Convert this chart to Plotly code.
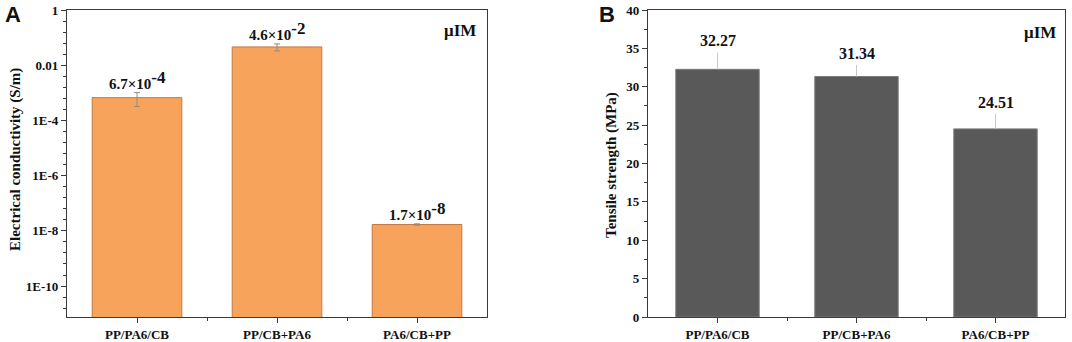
import plotly.graph_objects as go
import numpy as np

categories = ["PP/PA6/CB", "PP/CB+PA6", "PA6/CB+PP"]
conductivity = [6.7e-4, 4.6e-2, 1.7e-8]
conductivity_err = [3.5e-4, 1.3e-2, 0.1e-8]
conductivity_mant = ["6.7", "4.6", "1.7"]
conductivity_exp = ["-4", "-2", "-8"]
strength = [32.27, 31.34, 24.51]
strength_err = [2.2, 1.5, 2.0]
strength_labels = ["32.27", "31.34", "24.51"]
cond_tickvals = [1, 1e-2, 1e-4, 1e-6, 1e-8, 1e-10]
cond_ticktext = ["1", "0.01", "1E-4", "1E-6", "1E-8", "1E-10"]
str_tickvals = [0, 5, 10, 15, 20, 25, 30, 35, 40]

W, H = 1072, 342


def fx(px):
    return px / W


def fy(py):
    return 1 - py / H


SERIF = "Liberation Serif, Times New Roman, serif"
AXC = "#3a3a3a"
xpos = list(range(len(categories)))

fig = go.Figure()
fig.add_trace(go.Bar(
    x=xpos, y=conductivity, width=0.64,
    marker=dict(color="#F7A35C", line=dict(color="#C07A45", width=1)),
    error_y=dict(type="data", array=conductivity_err, color="#9a8a80", thickness=1, width=3),
    xaxis="x", yaxis="y", showlegend=False))
fig.add_trace(go.Bar(
    x=xpos, y=strength, width=0.6,
    marker=dict(color="#595959", line=dict(color="#7a7a7a", width=1)),
    error_y=dict(type="data", symmetric=False, array=strength_err,
                 arrayminus=[0] * len(strength), color="#c8c8c8", thickness=1, width=0),
    xaxis="x2", yaxis="y2", showlegend=False))

tickfont = dict(family=SERIF, size=13, color="#111", weight="bold")
xcommon = dict(
    range=[-0.5, len(categories) - 0.5], tickvals=xpos, ticktext=categories,
    ticks="outside", ticklen=5, tickwidth=1, tickcolor=AXC, automargin=False,
    showline=True, linecolor=AXC, linewidth=1.2, mirror=True,
    showgrid=False, zeroline=False, tickfont=tickfont,
    minor=dict(tickvals=[i + 0.5 for i in xpos[:-1]], ticks="outside", ticklen=3,
               tickcolor=AXC, showgrid=False),
)
minor_log = [10 ** (-k * 0.4) for k in range(1, 28) if (k * 0.4) % 2 > 0.01 and (k * 0.4) % 2 < 1.99]
fig.update_layout(
    width=W, height=H,
    margin=dict(l=0, r=0, t=0, b=0),
    paper_bgcolor="white", plot_bgcolor="white",
    xaxis=dict(domain=[fx(67), fx(487)], anchor="y", **xcommon),
    xaxis2=dict(domain=[fx(648), fx(1065)], anchor="y2", **xcommon),
    yaxis=dict(domain=[fy(317), fy(10)], anchor="x", type="log",
               range=[-11.12, 0], tickvals=cond_tickvals, ticktext=cond_ticktext,
               ticks="outside", ticklen=5, tickcolor=AXC, automargin=False,
               showline=True, linecolor=AXC, linewidth=1.2, mirror=True,
               showgrid=False, zeroline=False, tickfont=tickfont,
               minor=dict(tickvals=minor_log, ticks="outside", ticklen=3,
                          tickcolor=AXC, showgrid=False)),
    yaxis2=dict(domain=[fy(317), fy(10)], anchor="x2",
                range=[0, 40], tickvals=str_tickvals, automargin=False,
                ticks="outside", ticklen=5, tickcolor=AXC,
                showline=True, linecolor=AXC, linewidth=1.2, mirror=True,
                showgrid=False, zeroline=False, tickfont=tickfont,
                minor=dict(dtick=2.5, ticks="outside", ticklen=3,
                           tickcolor=AXC, showgrid=False)),
    bargap=0.3,
)

annots = []
for i, (v, e, m, x) in enumerate(zip(conductivity, conductivity_err, conductivity_mant, conductivity_exp)):
    t = f"{m}×10<sup><span style='font-size:17px'>{x}</span></sup>"
    annots.append(dict(x=i, y=np.log10(v + e), xref="x", yref="y", text=t,
                       showarrow=False, yanchor="bottom", yshift=-1,
                       font=dict(family=SERIF, size=15, color="#111", weight="bold")))
for i, (v, e, t) in enumerate(zip(strength, strength_err, strength_labels)):
    annots.append(dict(x=i, y=v + e, xref="x2", yref="y2", text=t,
                       showarrow=False, yanchor="bottom", yshift=1,
                       font=dict(family=SERIF, size=16, color="#111", weight="bold")))
# μIM labels
annots.append(dict(x=fx(478), y=fy(30), xref="paper", yref="paper", text="μIM",
                   showarrow=False, xanchor="right", yanchor="middle",
                   font=dict(family=SERIF, size=17, color="#111", weight="bold")))
annots.append(dict(x=fx(1058), y=fy(32), xref="paper", yref="paper", text="μIM",
                   showarrow=False, xanchor="right", yanchor="middle",
                   font=dict(family=SERIF, size=17, color="#111", weight="bold")))
# panel letters
annots.append(dict(x=fx(3), y=fy(0), xref="paper", yref="paper", text="A",
                   showarrow=False, xanchor="left", yanchor="top",
                   font=dict(family="Liberation Sans, Arial, sans-serif", size=22, color="#111", weight="bold")))
annots.append(dict(x=fx(597), y=fy(0), xref="paper", yref="paper", text="B",
                   showarrow=False, xanchor="left", yanchor="top",
                   font=dict(family="Liberation Sans, Arial, sans-serif", size=22, color="#111", weight="bold")))
# axis titles
annots.append(dict(x=fx(15), y=fy(160), xref="paper", yref="paper",
                   text="Electrical conductivity (S/m)", textangle=-90, showarrow=False,
                   xanchor="center", yanchor="middle",
                   font=dict(family=SERIF, size=15, color="#111", weight="bold")))
annots.append(dict(x=fx(612), y=fy(165), xref="paper", yref="paper",
                   text="Tensile strength (MPa)", textangle=-90, showarrow=False,
                   xanchor="center", yanchor="middle",
                   font=dict(family=SERIF, size=15, color="#111", weight="bold")))
fig.update_layout(annotations=annots)

fig.write_html("out.html", config={"displayModeBar": False},
               post_script="document.body.style.margin='0';document.body.style.overflow='hidden';")
